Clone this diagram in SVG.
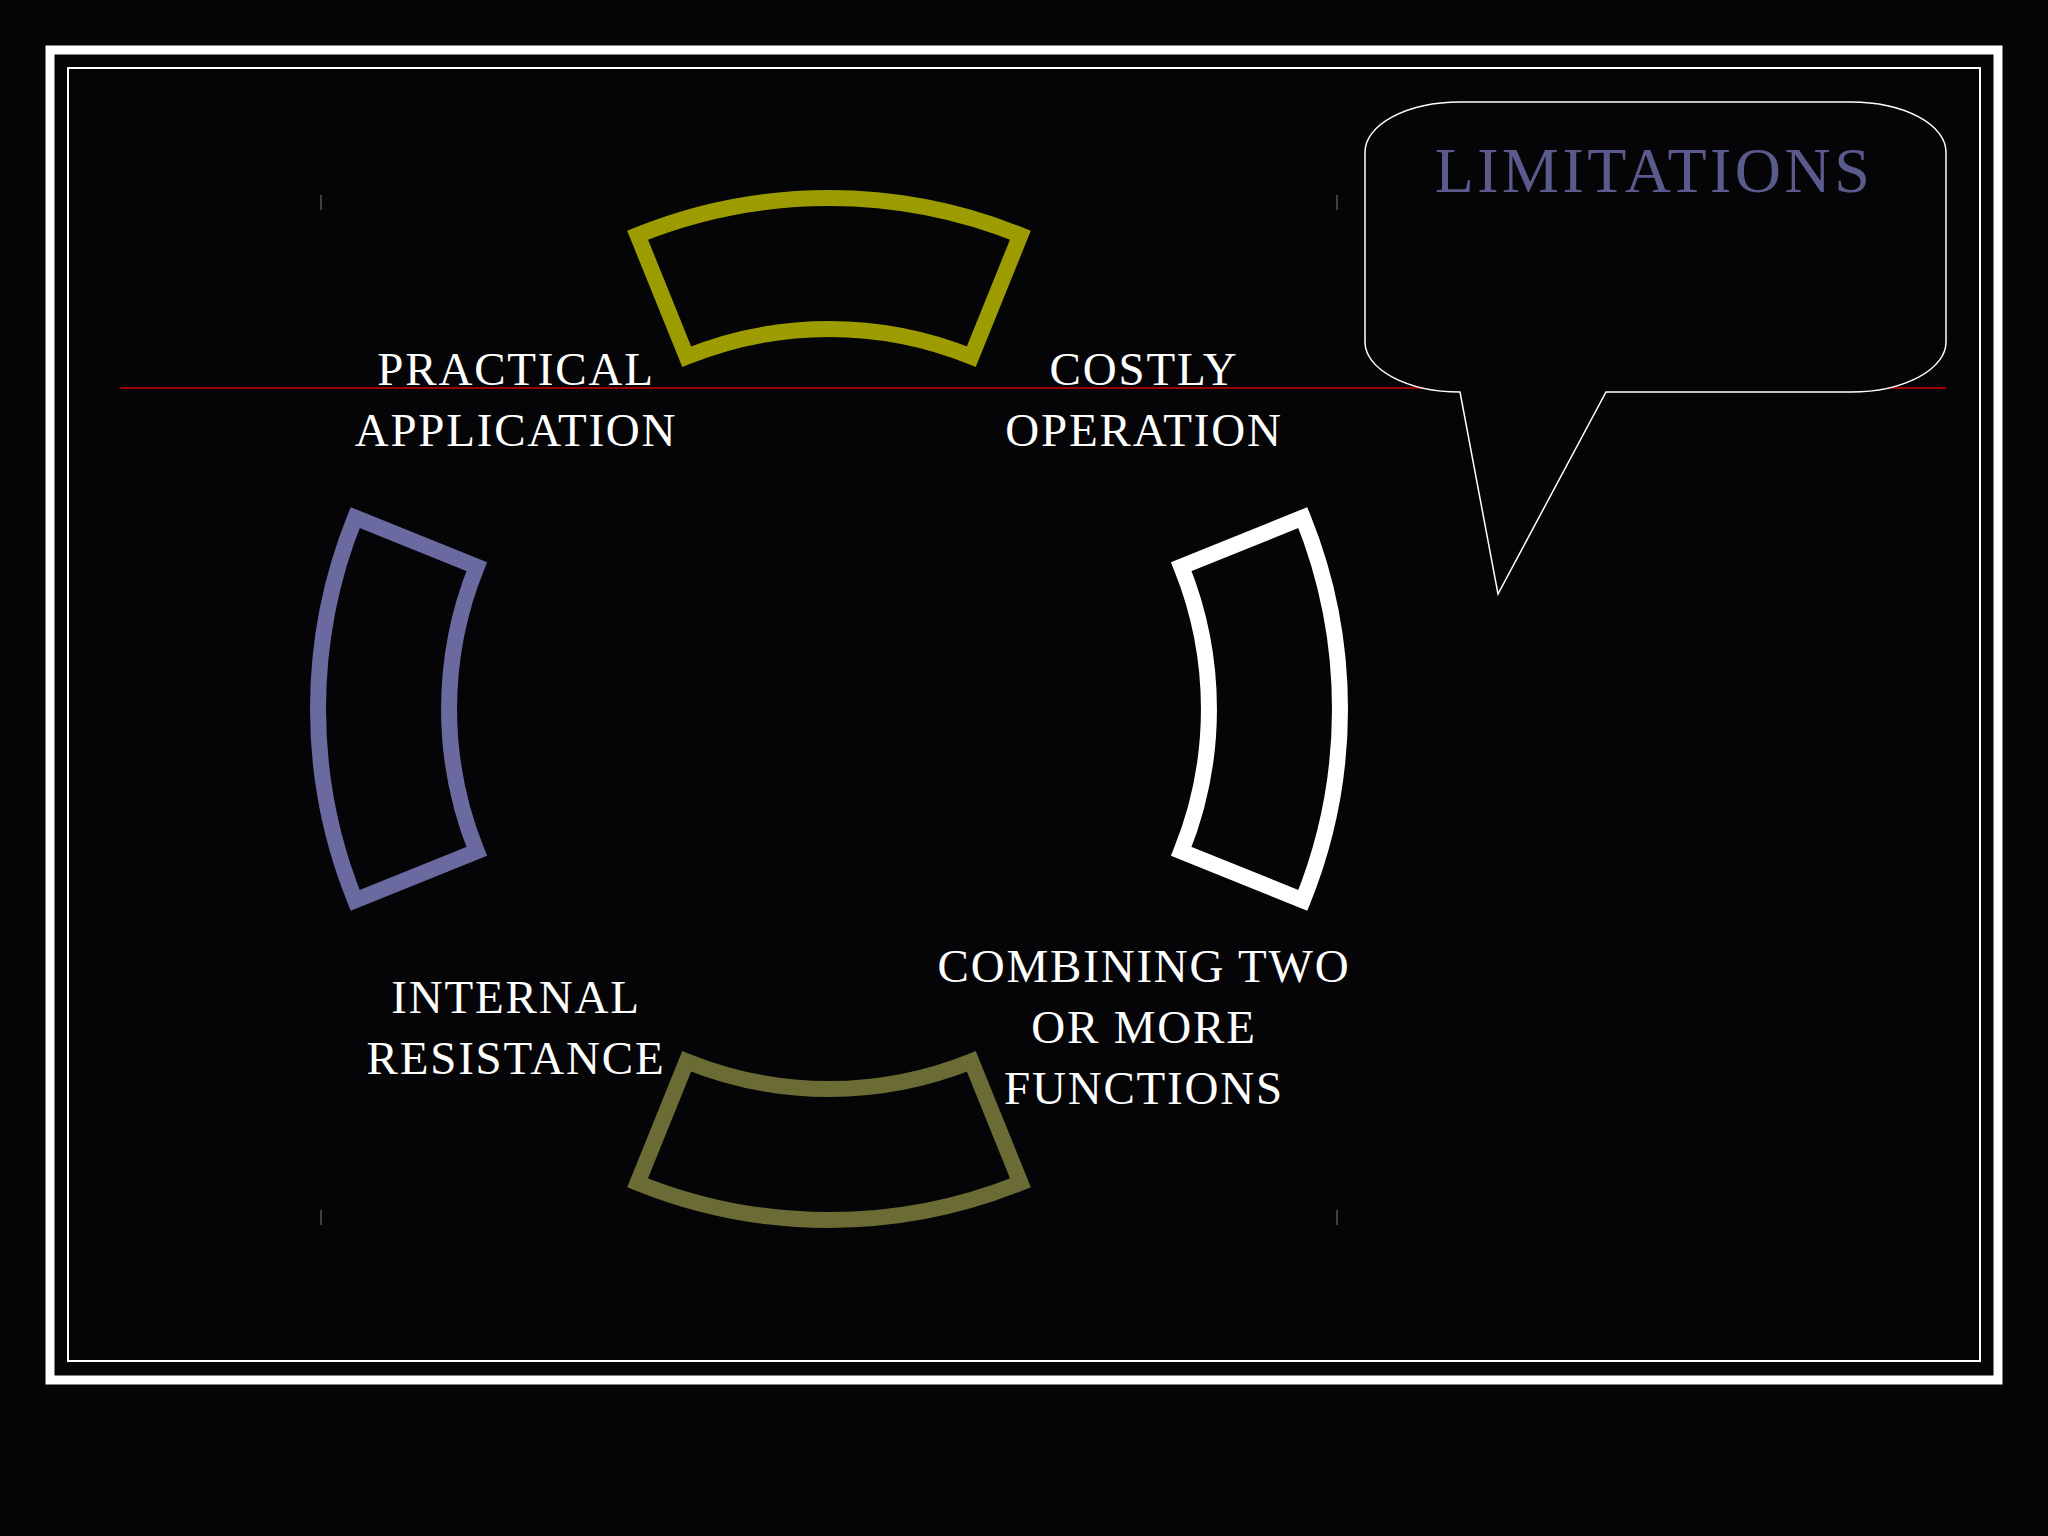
<svg xmlns="http://www.w3.org/2000/svg" width="2048" height="1536" viewBox="0 0 2048 1536">
<style>
.t{font-family:"Liberation Serif","DejaVu Serif",serif;font-size:47px;letter-spacing:1.8px;fill:#ffffff;text-anchor:middle}
.seg{fill:none;stroke-width:16}
.tick{stroke:#555;stroke-width:1.5}
</style>
<rect width="2048" height="1536" fill="#050508"/>
<rect x="50" y="50" width="1948" height="1330" fill="none" stroke="#fff" stroke-width="9"/>
<rect x="68" y="68" width="1912" height="1293" fill="none" stroke="#fff" stroke-width="2"/>
<g id="ticks">
<line class="tick" x1="321" y1="195" x2="321" y2="210"/>
<line class="tick" x1="1337" y1="195" x2="1337" y2="210"/>
<line class="tick" x1="321" y1="1210" x2="321" y2="1225"/>
<line class="tick" x1="1337" y1="1210" x2="1337" y2="1225"/>
</g>
<g id="connectors">
<line x1="120" y1="388" x2="1946" y2="388" stroke="#a00000" stroke-width="2"/>
</g>
<g id="seg-top"><path class="seg" stroke="#9c9c00" d="M637.6,235.2 A511,511 0 0 1 1020.4,235.2 L971.3,356.7 A380,380 0 0 0 686.7,356.7 Z"/></g>
<g id="seg-bottom"><path class="seg" stroke="#6b6b35" d="M637.6,1182.8 A511,511 0 0 0 1020.4,1182.8 L971.3,1061.3 A380,380 0 0 1 686.7,1061.3 Z"/></g>
<g id="seg-right"><path class="seg" stroke="#ffffff" d="M1302.8,517.6 A511,511 0 0 1 1302.8,900.4 L1181.3,851.3 A380,380 0 0 0 1181.3,566.7 Z"/></g>
<g id="seg-left"><path class="seg" stroke="#6a6aa0" d="M355.2,517.6 A511,511 0 0 0 355.2,900.4 L476.7,851.3 A380,380 0 0 1 476.7,566.7 Z"/></g>
<g id="practical"><text class="t" x="516" y="385">PRACTICAL</text><text class="t" x="516" y="446">APPLICATION</text></g>
<g id="costly"><text class="t" x="1144" y="385">COSTLY</text><text class="t" x="1144" y="446">OPERATION</text></g>
<g id="internal"><text class="t" x="516" y="1013">INTERNAL</text><text class="t" x="516" y="1074">RESISTANCE</text></g>
<g id="combining"><text class="t" x="1144" y="982">COMBINING TWO</text><text class="t" x="1144" y="1043">OR MORE</text><text class="t" x="1144" y="1104">FUNCTIONS</text></g>
<g id="callout">
<path d="M1460,392 L1498,594 L1606,392 L1851,392 A95,50 0 0 0 1946,342 L1946,152 A95,50 0 0 0 1851,102 L1460,102 A95,50 0 0 0 1365,152 L1365,342 A95,50 0 0 0 1460,392 Z" fill="#050508" stroke="#fff" stroke-width="1.5"/>
<text x="1654" y="192" font-family="Liberation Serif, DejaVu Serif, serif" font-size="64" letter-spacing="3.5" fill="#5a5a8c" text-anchor="middle">LIMITATIONS</text>
</g>
</svg>
